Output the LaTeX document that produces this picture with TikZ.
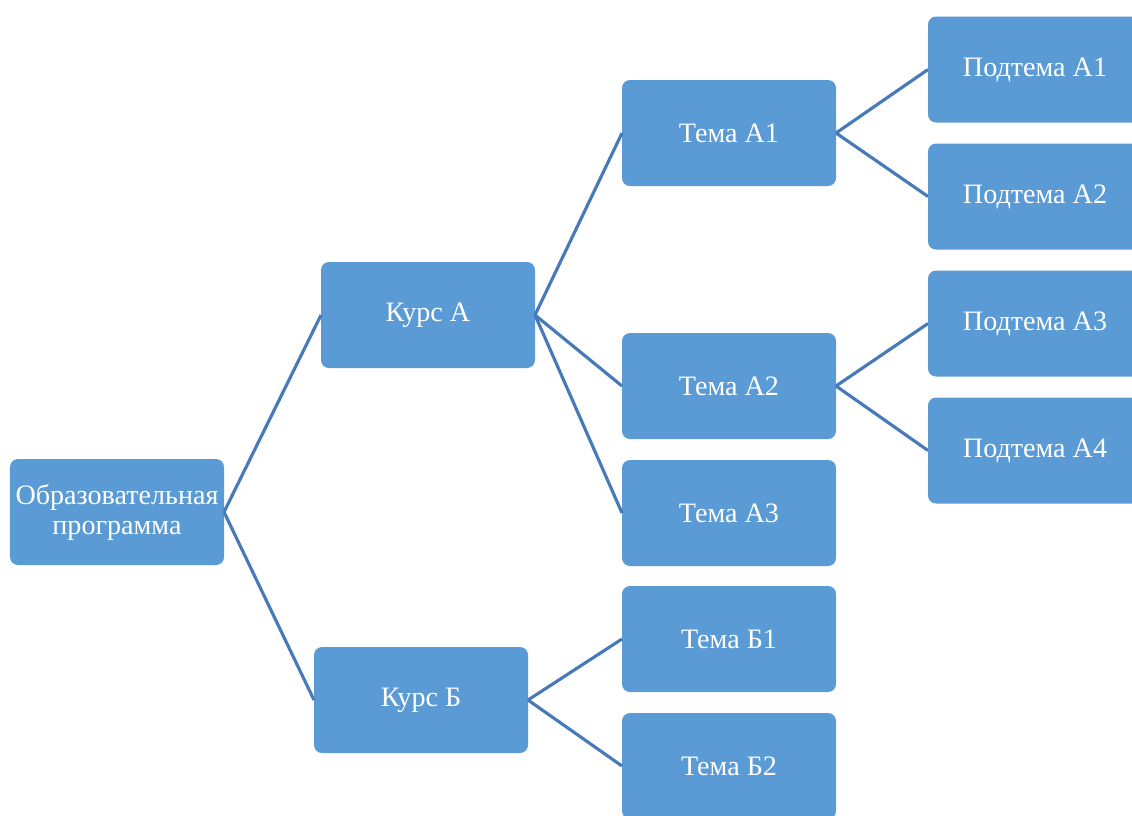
\documentclass[tikz,border=0pt]{standalone}
\usepackage{fontspec}
\setmainfont{Liberation Serif}
\usepackage{tikz}
\usetikzlibrary{positioning}
\definecolor{boxblue}{RGB}{91,155,213}
\definecolor{lineblue}{RGB}{72,122,186}

\begin{document}
\begin{tikzpicture}[node distance={0.42cm}, line width=1.8pt,
    main/.style = {fill=boxblue, draw=none, rounded corners=0.16cm, text=white,
      minimum width=4.28cm, minimum height=2.12cm, inner sep=1pt, outer sep=0pt,
      align=center, font=\fontsize{16}{17}\selectfont},
    link/.style = {draw=lineblue}]
            \useasboundingbox (0,0) rectangle (22.64,-16.3);
            % Nodes
            \node[main] (root) at (2.34,-10.24) {Образовательная\\программа};
            \node[main] (kursA) [above right=1.82cm and 1.94cm of root] {Курс А};
            \node[main] (kursB) [below right=1.64cm and 1.8cm of root] {Курс Б};
            \node[main] (temaA1) [above right=1.52cm and 1.74cm of kursA] {Тема А1};
            \node[main] (temaA2) [below=2.94cm of temaA1] {Тема А2};
            \node[main] (temaA3) [below=of temaA2] {Тема А3};
            \node[main] (temaB1) [below=0.4cm of temaA3] {Тема Б1};
            \node[main] (temaB2) [below=of temaB1] {Тема Б2};
            \node[main] (podA1) [right=1.84cm of temaA1, yshift=1.27cm] {Подтема А1};
            \node[main] (podA2) [below=of podA1] {Подтема А2};
            \node[main] (podA3) [below=of podA2] {Подтема А3};
            \node[main] (podA4) [below=of podA3] {Подтема А4};
            % Edges
            \draw[link] (root.east) -- (kursA.west);
            \draw[link] (root.east) -- (kursB.west);
            \draw[link] (kursA.east) -- (temaA1.west);
            \draw[link] (kursA.east) -- (temaA2.west);
            \draw[link] (kursA.east) -- (temaA3.west);
            \draw[link] (kursB.east) -- (temaB1.west);
            \draw[link] (kursB.east) -- (temaB2.west);
            \draw[link] (temaA1.east) -- (podA1.west);
            \draw[link] (temaA1.east) -- (podA2.west);
            \draw[link] (temaA2.east) -- (podA3.west);
            \draw[link] (temaA2.east) -- (podA4.west);
\end{tikzpicture}
\end{document}
